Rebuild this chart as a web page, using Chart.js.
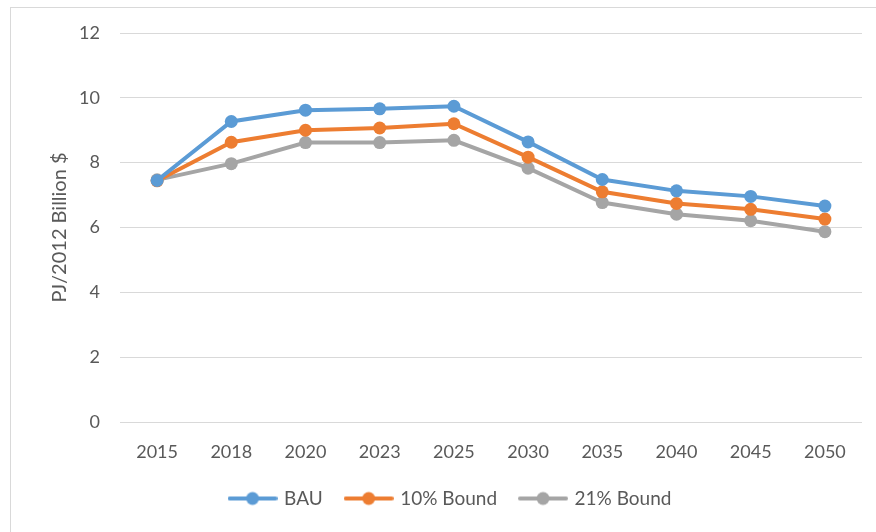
<!DOCTYPE html>
<html>
<head>
<meta charset="utf-8">
<script src="https://cdn.jsdelivr.net/npm/chart.js@4"></script>
<style>
  body{margin:0;background:#fff;}
  #wrap{position:relative;width:876px;height:532px;}
  #frame{position:absolute;left:10px;top:7px;right:0;bottom:0;border-left:1px solid #d9d9d9;border-top:1px solid #d9d9d9;}
  canvas{position:absolute;left:0;top:0;}
</style>
</head>
<body>
<div id="wrap">
  <div id="frame"></div>
  <canvas id="chart" width="876" height="532"></canvas>
</div>
<script>
const years = ['2015','2018','2020','2023','2025','2030','2035','2040','2045','2050'];
const bau = [7.45,9.27,9.62,9.66,9.74,8.64,7.48,7.13,6.96,6.66];
const bound10 = [7.44,8.63,9.0,9.07,9.2,8.17,7.1,6.74,6.56,6.26];
const bound21 = [7.47,7.97,8.62,8.62,8.69,7.83,6.77,6.41,6.21,5.87];
const yTicks = [0,2,4,6,8,10,12];

const font = "Lato, 'Open Sans', sans-serif";

function legendMark(col){
    const c = document.createElement('canvas');
    c.width = 50; c.height = 16;
    const g = c.getContext('2d');
    g.strokeStyle = col; g.lineWidth = 4; g.lineCap = 'round';
    g.beginPath(); g.moveTo(2,8); g.lineTo(48,8); g.stroke();
    g.fillStyle = col;
    g.beginPath(); g.arc(25,8,6.5,0,Math.PI*2); g.fill();
    return c;
}

function series(label, data, col){
    return {
        label: label,
        data: data,
        borderColor: col,
        backgroundColor: col,
        borderWidth: 4,
        pointRadius: 6.5,
        pointHoverRadius: 6.5,
        pointBorderWidth: 0,
        pointStyle: 'circle',
        tension: 0
    };
}

const ctx = document.getElementById('chart').getContext('2d');

new Chart(ctx,{
    type:'line',
    data:{
        labels: years,
        datasets:[
            series('BAU', bau, '#5B9BD5'),
            series('10% Bound', bound10, '#ED7D31'),
            series('21% Bound', bound21, '#A5A5A5')
        ]
    },
    options:{
        responsive:false,
        animation:false,
        layout:{padding:{left:40,right:14,top:33,bottom:14}},
        plugins:{
            tooltip:{enabled:false},
            legend:{
                position:'bottom',
                labels:{
                    color:'#595959',
                    font:{family:font,size:19},
                    usePointStyle:true,
                    pointStyleWidth:44,
                    padding:24,
                    generateLabels(chart){
                        return chart.data.datasets.map((d,i)=>({
                            text:d.label,
                            fontColor:'#595959',
                            pointStyle:legendMark(d.borderColor),
                            datasetIndex:i,
                            lineWidth:0,
                            strokeStyle:'transparent',
                            fillStyle:'transparent'
                        }));
                    }
                }
            }
        },
        scales:{
            x:{
                offset:true,
                grid:{display:false,drawTicks:false},
                border:{display:false},
                ticks:{color:'#595959',font:{family:font,size:18},padding:19,maxRotation:0},
                afterFit(s){ s.height = 43; }
            },
            y:{
                min:0,
                max:12,
                afterBuildTicks(s){ s.ticks = yTicks.map(v=>({value:v})); },
                grid:{color:'#d9d9d9',drawTicks:false},
                border:{display:false},
                ticks:{color:'#595959',font:{family:font,size:18},padding:20},
                title:{display:true,text:'PJ/2012 Billion $',color:'#595959',font:{family:font,size:20},padding:{top:8,bottom:0}},
                afterFit(s){ s.width = 80; }
            }
        }
    }
});
</script>
</body>
</html>
